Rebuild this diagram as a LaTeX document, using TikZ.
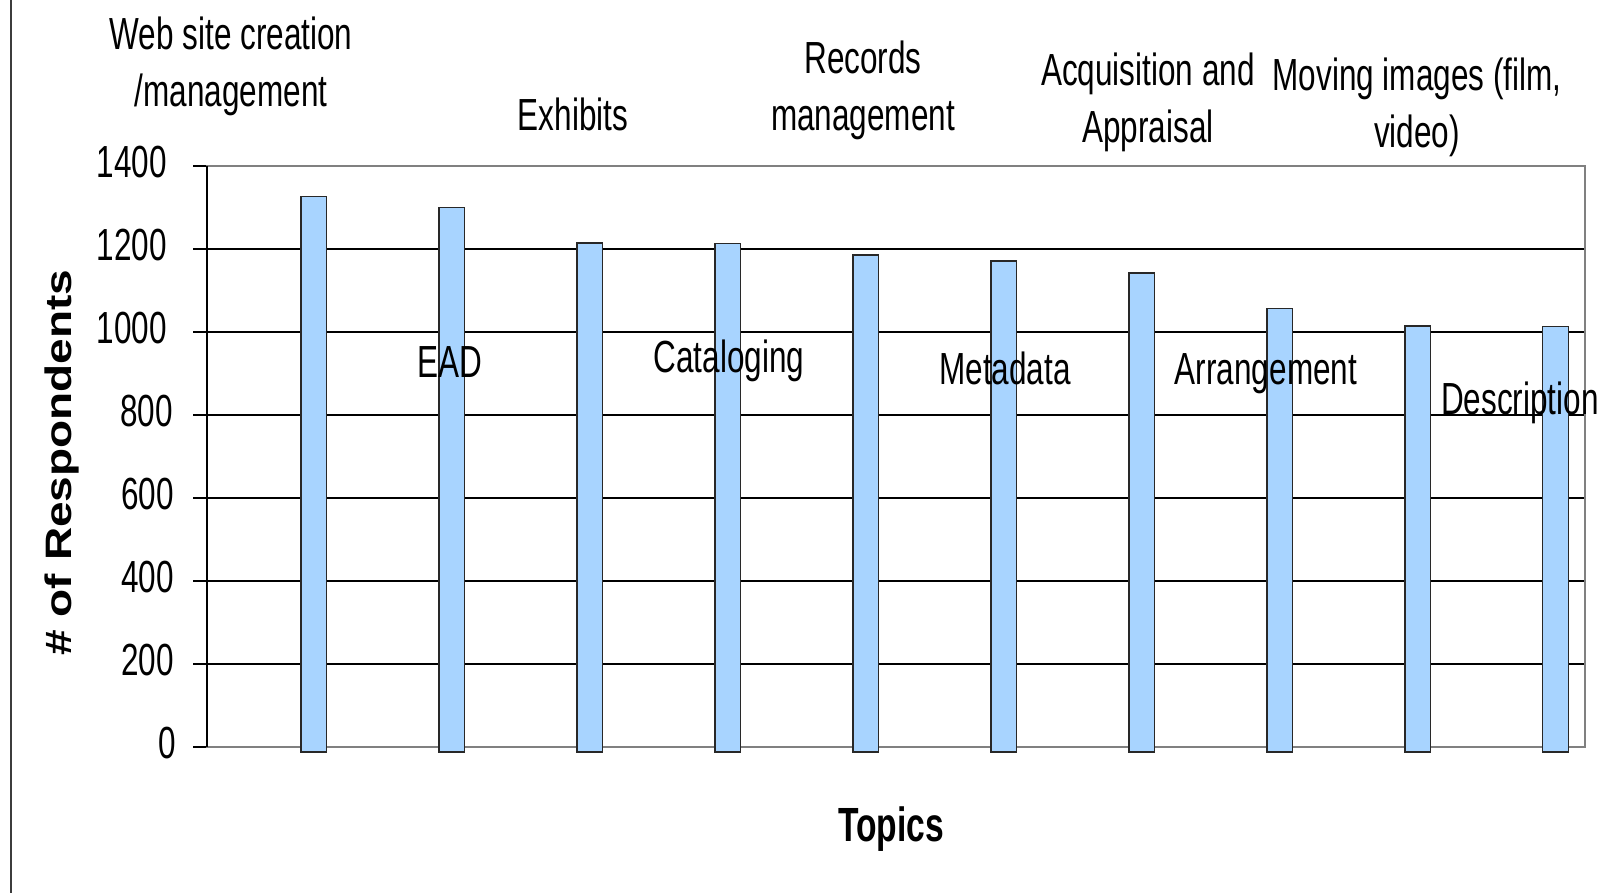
\documentclass[tikz,border=0pt]{standalone}
\usepackage{fontspec}
\usepackage{graphicx}
\usepackage{tikz}
\setmainfont[FakeStretch=0.70]{Liberation Sans}
\newfontfamily\widefont{Liberation Sans}
\definecolor{barblue}{RGB}{168, 212, 255}
\definecolor{barline}{RGB}{40, 40, 40}
\definecolor{framegray}{RGB}{128, 128, 128}
\definecolor{edgegray}{RGB}{60, 60, 60}

\begin{document}
\begin{tikzpicture}[x=0.5pt, y=0.5pt,
    gridline/.style={draw=black, line width=1pt},
    plotframe/.style={draw=framegray, line width=1.2pt},
    edgeline/.style={draw=edgegray, line width=1.2pt},
    bar/.style={draw=barline, fill=barblue, line width=0.75pt},
    num/.style={font=\fontsize{22.5}{27}\selectfont, anchor=base east, inner sep=0pt},
    lbl/.style={font=\fontsize{22.5}{28.75}\selectfont, align=center, anchor=base, inner sep=0pt},
    xtitle/.style={font=\bfseries\fontsize{24}{28}\selectfont, anchor=base, inner sep=0pt},
    ytitle/.style={font=\widefont\bfseries\fontsize{23}{27}\selectfont, rotate=90, anchor=base, inner sep=0pt}]
    \useasboundingbox (0,0) rectangle (1608,893);
    \draw[edgeline]   (11,0) -- (11,893);
    \foreach \v in {200,400,...,1200}
        \draw[gridline] (207,{146+0.415*\v}) -- (1585,{146+0.415*\v});
    \foreach \v in {0,200,...,1400}
        \draw[gridline] (193,{146+0.415*\v}) -- (207,{146+0.415*\v});
    \draw[plotframe]  (207,146) rectangle (1585,727);
    \draw[gridline]   (207,146) -- (207,727);
    \foreach \v [count=\i] in {1327,1300,1214,1213,1186,1171,1142,1057,1014,1013}
        \filldraw[bar] ({301+137.97*(\i-1)},141) rectangle ++(25.7,{5+0.415*\v});
    \foreach \v/\xr in {0/176,200/174,400/174,600/174,800/173,1000/167,1200/167,1400/167}
        \node[num] (tick\v) at (\xr,{134+0.415*\v}) {\v};
    \node[lbl] (website)     at ( 231, 786) {Web site creation\\/management};
    \node[lbl] (exhibits)    at ( 573, 762) {Exhibits};
    \node[lbl] (records)     at ( 863, 762) {Records\\management};
    \node[lbl] (acquisition) at (1148, 750) {Acquisition and\\Appraisal};
    \node[lbl] (moving)      at (1417, 745) {Moving images (film,\\video)};
    \node[lbl] (ead)         at ( 450, 515) {EAD};
    \node[lbl] (cataloging)  at ( 729, 520) {Cataloging};
    \node[lbl] (metadata)    at (1005, 508) {Metadata};
    \node[lbl] (arrangement) at (1266, 508) {Arrangement};
    \node[lbl] (description) at (1520, 478) {Description};
    \node[xtitle] (topics)   at ( 891,  51) {Topics};
    \node[ytitle] (respondents) at (72, 430.5) {\scalebox{1}[0.8]{\# of Respondents}};
\end{tikzpicture}
\end{document}
